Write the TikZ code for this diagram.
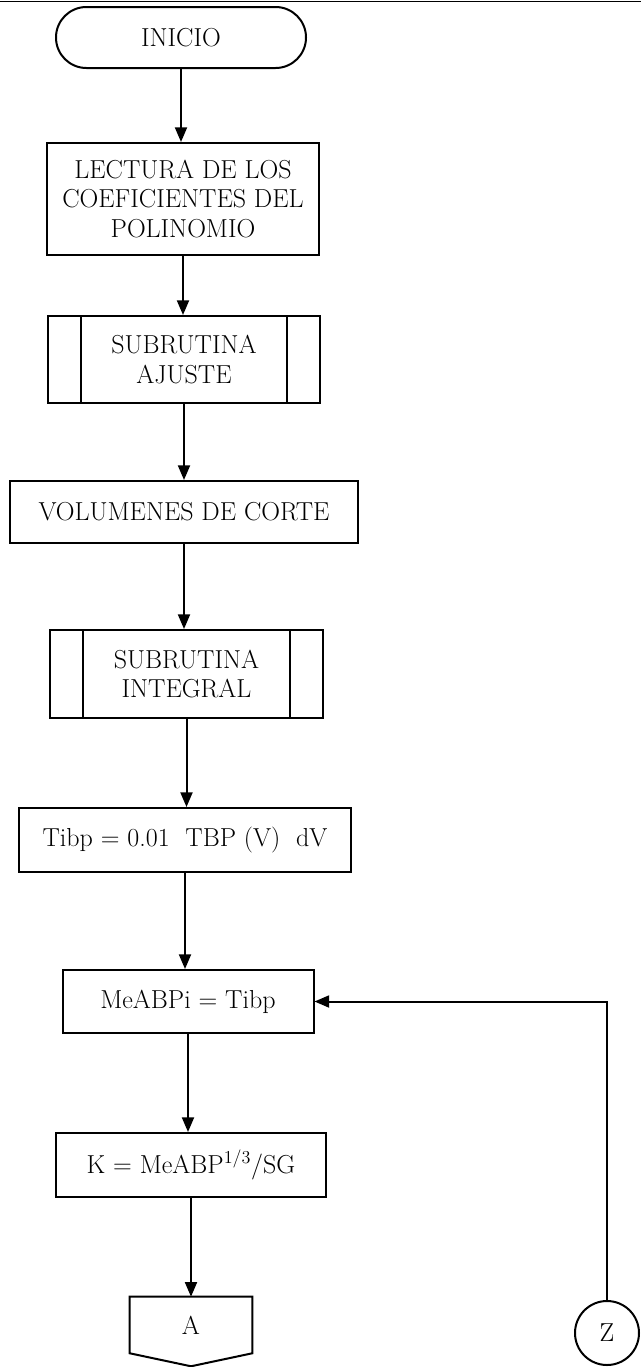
\documentclass[tikz,border=0pt]{standalone}
\usepackage{tikz}
\usetikzlibrary{arrows.meta, positioning, calc}

\begin{document}
\begin{tikzpicture}[
  x=0.75pt, y=-0.75pt,
  box/.style={draw, line width=1.5pt, align=center, inner sep=2pt,
    font=\fontsize{19.5}{22}\selectfont},
  term/.style={box, rounded corners=22.8pt},
  link/.style={box, circle, minimum size=48pt, inner sep=0pt},
  flow/.style={line width=1.5pt, -{Triangle[width=9pt,length=11pt]}}
]
  \useasboundingbox (0,0) rectangle (641,1367);

  % Page rule
  \draw[line width=1pt] (0,1.5) -- (641,1.5);

  % Main column
  \node[term, minimum width=187.5pt, minimum height=45.75pt] (inicio) at (181,37.5) {INICIO};
  \node[box, minimum width=204pt, minimum height=84pt] (lectura) at (183,199)
    {LECTURA DE LOS\\COEFICIENTES DEL\\POLINOMIO};
  \node[box, minimum width=204pt, minimum height=65.25pt] (ajuste) at (184,359.5)
    {SUBRUTINA\\AJUSTE};
  \node[box, minimum width=261pt, minimum height=46.5pt] (volumenes) at (184,512)
    {VOLUMENES DE CORTE};
  \node[box, minimum width=204.75pt, minimum height=66pt] (integral) at (186.5,674)
    {SUBRUTINA\\INTEGRAL};
  \node[box, minimum width=249pt, minimum height=48pt] (tibp) at (185,840)
    {Tibp = 0.01~~TBP (V)~~dV};
  \node[box, minimum width=188.25pt, minimum height=47.25pt] (meabp) at (188,1001.5)
    {MeABPi = Tibp};
  \node[box, minimum width=202.5pt, minimum height=48pt] (kbox) at (191,1165)
    {K = MeABP\textsuperscript{1/3}/SG};

  % Subroutine side bars
  \foreach \n in {ajuste, integral} {
    \draw[line width=1.5pt] ([xshift=25.5pt]\n.north west) -- ([xshift=25.5pt]\n.south west);
    \draw[line width=1.5pt] ([xshift=-25.5pt]\n.north east) -- ([xshift=-25.5pt]\n.south east);
  }

  % Off-page connector A
  \node[minimum width=91.5pt, minimum height=42pt, inner sep=0pt,
    font=\fontsize{19.5}{22}\selectfont] (offa) at (191,1325) {A};
  \draw[line width=1.5pt] (offa.north west) -- (offa.north east) -- (offa.south east)
    -- ([yshift=-9.75pt]offa.south) -- (offa.south west) -- cycle;

  % Connector Z
  \node[link] (z) at (607,1333) {Z};

  % Flow
  \foreach \a/\b in {inicio/lectura, lectura/ajuste, ajuste/volumenes,
    volumenes/integral, integral/tibp, tibp/meabp, meabp/kbox, kbox/offa}
    \draw[flow] (\a) -- (\a |- \b.north);
  \draw[flow] (z.north) |- (meabp.east);
\end{tikzpicture}
\end{document}
